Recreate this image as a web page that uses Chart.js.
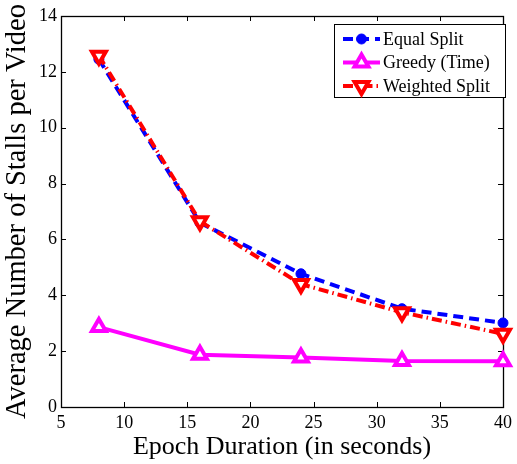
<!DOCTYPE html>
<html>
<head>
<meta charset="utf-8">
<script src="https://cdn.jsdelivr.net/npm/chart.js@4/dist/chart.umd.min.js"></script>
<style>
html, body { margin: 0; padding: 0; background: #fff; }
</style>
</head>
<body>
<canvas id="myChart" width="517" height="464"></canvas>
<script>
// values
const epochs = [8, 16, 24, 32, 40];
const equalSplit = [12.45, 6.6, 4.77, 3.52, 3.01];
const greedyTime = [2.86, 1.87, 1.77, 1.65, 1.64];
const weightedSplit = [12.58, 6.65, 4.4, 3.39, 2.62];

const seriesNames = ['Equal Split', 'Greedy (Time)', 'Weighted Split'];
const xLabel = 'Epoch Duration (in seconds)';
const yLabel = 'Average Number of Stalls per Video';

const serif = '"Liberation Serif", "DejaVu Serif", serif';

function toPoints(ys) {
    return epochs.map((x, i) => ({x: x, y: ys[i]}));
}

// frame + inward ticks on all four sides (matlab style)
const frameBox = {
    id: 'frameBox',
    beforeDatasetsDraw(chart) {
        const {ctx, chartArea: a, scales} = chart;
        const len = 5;
        ctx.save();
        ctx.strokeStyle = '#000';
        ctx.lineWidth = 1;
        ctx.beginPath();
        for (let t of scales.x.ticks) {
            let px = Math.round(scales.x.getPixelForValue(t.value)) + 0.5;
            ctx.moveTo(px, a.bottom); ctx.lineTo(px, a.bottom - len);
            ctx.moveTo(px, a.top); ctx.lineTo(px, a.top + len);
        }
        for (let t of scales.y.ticks) {
            let py = Math.round(scales.y.getPixelForValue(t.value)) + 0.5;
            ctx.moveTo(a.left, py); ctx.lineTo(a.left + len, py);
            ctx.moveTo(a.right, py); ctx.lineTo(a.right - len, py);
        }
        ctx.stroke();
        ctx.lineWidth = 1.3;
        ctx.strokeRect(a.left + 0.5, a.top + 0.5, a.right - a.left, a.bottom - a.top);
        ctx.restore();
    }
};

// boxed legend in the upper right corner
const boxLegend = {
    id: 'boxLegend',
    afterDraw(chart) {
        const ctx = chart.ctx;
        const bx = 334, by = 24, bw = 171, bh = 73;
        ctx.save();
        ctx.fillStyle = '#fff';
        ctx.fillRect(bx, by, bw, bh);
        ctx.strokeStyle = '#000';
        ctx.lineWidth = 1;
        ctx.strokeRect(bx + 0.5, by + 0.5, bw, bh);

        chart.data.datasets.forEach(function(ds, i) {
            let y = 39 + i * 23.5;
            let x0 = 343, x1 = 380, xm = (x0 + x1) / 2;
            ctx.save();
            ctx.strokeStyle = ds.borderColor;
            ctx.lineWidth = ds.borderWidth;
            ctx.setLineDash(ds.borderDash || []);
            ctx.beginPath();
            ctx.moveTo(x0, y);
            ctx.lineTo(x1, y);
            ctx.stroke();
            ctx.restore();

            ctx.save();
            ctx.fillStyle = ds.pointBackgroundColor;
            ctx.strokeStyle = ds.pointBorderColor;
            ctx.lineWidth = ds.pointBorderWidth;
            Chart.helpers.drawPoint(ctx, {
                pointStyle: ds.pointStyle,
                radius: ds.pointRadius,
                rotation: ds.pointRotation || 0,
                borderWidth: ds.pointBorderWidth
            }, xm, y);
            ctx.restore();

            ctx.fillStyle = '#000';
            ctx.font = '18px ' + serif;
            ctx.textBaseline = 'middle';
            ctx.textAlign = 'left';
            ctx.fillText(ds.label, 383, y + 1);
        });
        ctx.restore();
    }
};

const chartdata = {
    datasets: [
        {
            label: seriesNames[0],
            data: toPoints(equalSplit),
            borderColor: '#0000ff',
            borderWidth: 4,
            borderDash: [10, 6],
            pointStyle: 'circle',
            pointRadius: 5,
            pointBackgroundColor: '#0000ff',
            pointBorderColor: '#0000ff',
            pointBorderWidth: 1,
            order: 2,
            clip: false
        },
        {
            label: seriesNames[1],
            data: toPoints(greedyTime),
            borderColor: '#ff00ff',
            borderWidth: 4,
            pointStyle: 'triangle',
            pointRadius: 8,
            pointBackgroundColor: '#ffffff',
            pointBorderColor: '#ff00ff',
            pointBorderWidth: 4,
            order: 1,
            clip: false
        },
        {
            label: seriesNames[2],
            data: toPoints(weightedSplit),
            borderColor: '#ff0000',
            borderWidth: 4,
            borderDash: [10, 4, 1.5, 4],
            pointStyle: 'triangle',
            pointRotation: 180,
            pointRadius: 8,
            pointBackgroundColor: '#ffffff',
            pointBorderColor: '#ff0000',
            pointBorderWidth: 4,
            order: 0,
            clip: false
        }
    ]
};

var config = {
    type: 'line',
    data: chartdata,
    options: {
        responsive: false,
        animation: false,
        devicePixelRatio: 1,
        layout: {
            autoPadding: false,
            padding: {top: 16, right: 9, left: 0, bottom: 0}
        },
        elements: {
            line: { tension: 0, fill: false }
        },
        plugins: {
            legend: { display: false },
            tooltip: { enabled: false }
        },
        scales: {
            x: {
                type: 'linear',
                min: 5,
                max: 40,
                grid: { display: false, drawTicks: false },
                border: { display: false },
                ticks: {
                    stepSize: 5,
                    padding: 5,
                    color: '#000',
                    font: { family: serif, size: 18 },
                    maxRotation: 0
                },
                title: {
                    display: true,
                    text: xLabel,
                    color: '#000',
                    font: { family: serif, size: 26 },
                    padding: { top: 0, bottom: 1.5 }
                },
                afterFit: function(scale) { scale.height = 57; }
            },
            y: {
                min: 0,
                max: 14,
                grid: { display: false, drawTicks: false },
                border: { display: false },
                ticks: {
                    stepSize: 2,
                    padding: 4,
                    color: '#000',
                    font: { family: serif, size: 18 }
                },
                title: {
                    display: true,
                    text: yLabel,
                    color: '#000',
                    font: { family: serif, size: 28.5 },
                    padding: { top: 0.5, bottom: 0 }
                },
                afterFit: function(scale) { scale.width = 61; }
            }
        }
    },
    plugins: [frameBox, boxLegend]
};

var canvas = document.getElementById('myChart');
var myChart = new Chart(canvas, config);
</script>
</body>
</html>
